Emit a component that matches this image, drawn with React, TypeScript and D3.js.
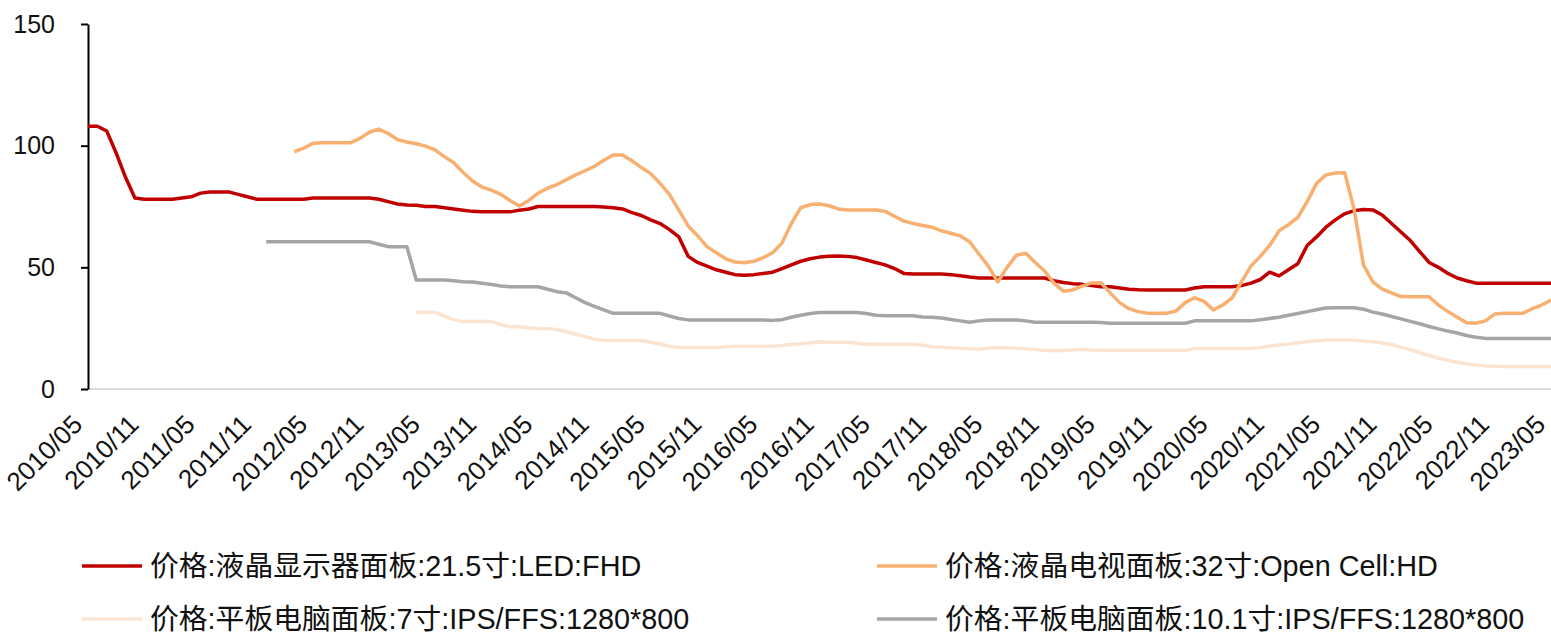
import { useEffect, useRef } from 'react';
import * as d3 from 'd3';

const W = 1551;
const H = 636;

// monthly categories 2010/05 .. 2023/05
const START_YEAR = 2010;
const START_MONTH = 5;
const N_MONTHS = 157;
const months = d3.range(N_MONTHS).map(i => {
  const m = START_MONTH - 1 + i;
  return `${START_YEAR + Math.floor(m / 12)}/${String((m % 12) + 1).padStart(2, '0')}`;
});
const tickLabels = months.filter((_, i) => i % 6 === 0);
const yTicks = [0, 50, 100, 150];

// 液晶显示器面板 21.5寸, from 2010/05
const monitorStart = 0;
const monitor215 = [
  108, 108, 106, 97, 87, 78.5, 78, 78, 78, 78,
  78.5, 79, 80.5, 81, 81, 81, 80, 79, 78, 78,
  78, 78, 78, 78, 78.5, 78.5, 78.5, 78.5, 78.5, 78.5,
  78.5, 78, 77, 76, 75.6, 75.5, 75, 75, 74.5, 74,
  73.5, 73, 72.8, 72.8, 72.8, 72.8, 73.5, 74, 75, 75,
  75, 75, 75, 75, 75, 74.8, 74.5, 74, 72.5, 71.3,
  69.5, 68, 65.5, 62.5, 54.5, 52, 50.5, 49, 48, 47,
  46.7, 47, 47.5, 48, 49.5, 51, 52.5, 53.5, 54.2, 54.6,
  54.7, 54.5, 54, 53, 52, 51, 49.5, 47.5, 47.3, 47.3,
  47.3, 47.3, 47, 46.5, 46, 45.6, 45.6, 45.6, 45.6, 45.6,
  45.6, 45.6, 45.6, 44.5, 43.8, 43.3, 43, 42.5, 42, 42,
  41.5, 41, 40.8, 40.7, 40.7, 40.7, 40.7, 40.7, 41.5, 42,
  42, 42, 42, 42.5, 43.5, 45, 48, 46.5, 49, 51.5,
  59, 62.5, 66.5, 69.5, 72, 73.3, 73.8, 73.6, 71.5, 68,
  64.5, 61, 56.5, 52, 50, 47.5, 45.6, 44.5, 43.5, 43.5,
  43.5, 43.5, 43.5, 43.5, 43.5, 43.5, 43.5,
];

// 液晶电视面板 32寸, from 2012/03
const tvStart = 22;
const tv32 = [
  97.5, 99, 101, 101.2, 101.2, 101.2, 101.2, 103, 105.5, 106.8,
  105, 102.5, 101.5, 100.8, 99.8, 98.3, 95.5, 93, 89, 85.5,
  83, 81.7, 80, 77.5, 75.2, 77.5, 80.5, 82.5, 84, 86,
  88, 89.7, 91.5, 94, 96.2, 96.2, 93.8, 91, 88.5, 84.5,
  80, 73.5, 67, 63, 58.5, 56, 53.5, 52.2, 51.9, 52.5,
  54, 56, 60, 68, 74.5, 75.8, 76, 75.3, 74, 73.6,
  73.6, 73.6, 73.6, 73, 71, 69, 68, 67.2, 66.5, 65,
  64, 63, 60.5, 55.5, 50.5, 44, 50, 55, 55.8, 52,
  48.5, 43.5, 40.2, 40.7, 42.3, 43.6, 43.7, 39.5, 35.5, 33,
  31.8, 31.1, 31.1, 31.1, 32, 35.5, 37.5, 36, 32.5, 34.5,
  37.5, 44, 50.5, 54.5, 59, 65, 67.5, 70.5, 77, 84.5,
  88, 88.8, 88.9, 74, 51, 44, 41, 39.5, 38, 37.9,
  37.9, 37.9, 34.5, 31.8, 29.5, 27.2, 27, 28, 30.8, 31.1,
  31.1, 31.1, 33, 34.5, 36.6,
];

// 平板电脑面板 7寸, from 2013/04
const tablet7Start = 35;
const tablet7 = [
  31.5, 31.5, 31.5, 30, 28.5, 27.7, 27.7, 27.7, 27.7, 26.5,
  25.6, 25.6, 25.2, 24.9, 24.9, 24.4, 23.5, 22.5, 21.5, 20.5,
  19.9, 19.9, 19.9, 19.9, 19.9, 19.2, 18.5, 17.6, 17.1, 17.1,
  17.1, 17.1, 17.1, 17.4, 17.6, 17.6, 17.6, 17.6, 17.6, 17.9,
  18.3, 18.6, 19, 19.4, 19.2, 19.2, 19.2, 18.8, 18.4, 18.4,
  18.4, 18.4, 18.4, 18.4, 18, 17.4, 17.2, 17, 16.7, 16.5,
  16.3, 16.8, 17.1, 17, 16.7, 16.5, 16.2, 15.8, 15.8, 15.8,
  16, 16.3, 16, 15.9, 15.9, 15.9, 15.9, 15.9, 15.9, 15.9,
  15.9, 15.9, 15.9, 16.6, 16.6, 16.6, 16.6, 16.6, 16.6, 16.6,
  17, 17.7, 18.1, 18.5, 19, 19.4, 19.8, 20.1, 20.1, 20.1,
  20, 19.7, 19.4, 18.9, 18.3, 17.2, 16.2, 15, 13.8, 12.7,
  11.8, 11, 10.4, 9.9, 9.5, 9.3, 9.2, 9.2, 9.2, 9.2,
  9.2, 9.2,
];

// 平板电脑面板 10.1寸, from 2011/12
const tablet101Start = 19;
const tablet101 = [
  60.5, 60.5, 60.5, 60.5, 60.5, 60.5, 60.5, 60.5, 60.5, 60.5,
  60.5, 60.5, 59.5, 58.5, 58.5, 58.5, 44.8, 44.8, 44.8, 44.8,
  44.5, 44.1, 44, 43.5, 43, 42.3, 42, 42, 42, 42,
  41, 40, 39.5, 37.5, 35.5, 34, 32.5, 31.1, 31.1, 31.1,
  31.1, 31.1, 31.1, 30, 29, 28.4, 28.4, 28.4, 28.4, 28.4,
  28.4, 28.4, 28.4, 28.4, 28.2, 28.5, 29.5, 30.3, 31, 31.4,
  31.4, 31.4, 31.4, 31.4, 31, 30.3, 30.1, 30.1, 30.1, 30.1,
  29.6, 29.5, 29.2, 28.6, 28, 27.4, 28, 28.4, 28.4, 28.4,
  28.4, 28, 27.4, 27.4, 27.4, 27.4, 27.4, 27.4, 27.4, 27.3,
  27, 27, 27, 27, 27, 27, 27, 27, 27, 28,
  28, 28, 28, 28, 28, 28, 28.5, 29, 29.5, 30.3,
  31, 31.8, 32.6, 33.3, 33.4, 33.4, 33.4, 32.8, 31.6, 30.8,
  29.8, 28.8, 27.8, 26.8, 25.7, 24.7, 23.8, 23, 22, 21.3,
  20.8, 20.8, 20.8, 20.8, 20.8, 20.8, 20.8, 20.8,
];

const seriesNames = [
  '价格:液晶显示器面板:21.5寸:LED:FHD',
  '价格:液晶电视面板:32寸:Open Cell:HD',
  '价格:平板电脑面板:7寸:IPS/FFS:1280*800',
  '价格:平板电脑面板:10.1寸:IPS/FFS:1280*800',
];

const SERIES = [
  { name: seriesNames[0], start: monitorStart, values: monitor215, color: '#C00000' },
  { name: seriesNames[1], start: tvStart, values: tv32, color: '#F8B071' },
  { name: seriesNames[2], start: tablet7Start, values: tablet7, color: '#FCE4D3' },
  { name: seriesNames[3], start: tablet101Start, values: tablet101, color: '#A5A5A5' },
];

const FONT = '"Liberation Sans", Arial, "Noto Sans CJK SC", sans-serif';

export default function App() {
  const svgRef = useRef<SVGSVGElement>(null);

  useEffect(() => {
    const m = { top: 24, right: 0, bottom: 247, left: 88 };
    const x = d3.scalePoint<string>().domain(months).range([m.left, W - m.right]);
    const y = d3.scaleLinear().domain([0, 150]).range([H - m.bottom, m.top]);

    const svg = d3.select(svgRef.current);
    svg.selectAll('*').remove();

    // x axis baseline
    svg.append('line')
      .attr('x1', m.left).attr('x2', W).attr('y1', y(0)).attr('y2', y(0))
      .attr('stroke', '#d9d9d9').attr('stroke-width', 2);

    // y axis
    svg.append('g').attr('transform', `translate(${m.left},0)`)
      .call(d3.axisLeft(y).tickValues(yTicks).tickSize(7).tickPadding(26).tickSizeOuter(0))
      .call(g => g.select('.domain').attr('stroke', '#000').attr('stroke-width', 2))
      .call(g => g.selectAll('.tick line').attr('stroke', '#000').attr('stroke-width', 2))
      .call(g => g.selectAll('text').attr('fill', '#111').attr('font-size', 25).attr('font-family', FONT));

    // x tick labels, rotated
    svg.append('g').selectAll('text').data(tickLabels).join('text')
      .attr('transform', d => `translate(${x(d)! - 4},${y(0) + 37}) rotate(-45)`)
      .attr('text-anchor', 'end')
      .attr('font-size', 26).attr('font-family', FONT).attr('fill', '#111')
      .text(d => d);

    const line = d3.line<number>()
      .x((_, i, arr) => x(months[(arr as any).start + i])!)
      .y(d => y(d));

    SERIES.forEach(s => {
      const vals: any = s.values.slice();
      vals.start = s.start;
      svg.append('path').datum(vals)
        .attr('fill', 'none').attr('stroke', s.color).attr('stroke-width', 3.5)
        .attr('stroke-linejoin', 'round')
        .attr('d', line as any);
    });

    // legend
    const lg = svg.append('g');
    SERIES.forEach((s, i) => {
      const lx = i % 2 === 0 ? 82 : 877;
      const ly = i < 2 ? 566 : 619;
      lg.append('line').attr('x1', lx).attr('x2', lx + 60).attr('y1', ly).attr('y2', ly)
        .attr('stroke', s.color).attr('stroke-width', 3.5);
      lg.append('text').attr('x', lx + 68).attr('y', ly).attr('dy', '0.35em')
        .attr('font-size', 28.8).attr('font-family', FONT).attr('fill', '#111')
        .text(s.name);
    });
  }, []);

  return (
    <svg ref={svgRef} width={W} height={H}
      style={{ position: 'absolute', left: 0, top: 0, background: '#fff' }} />
  );
}
